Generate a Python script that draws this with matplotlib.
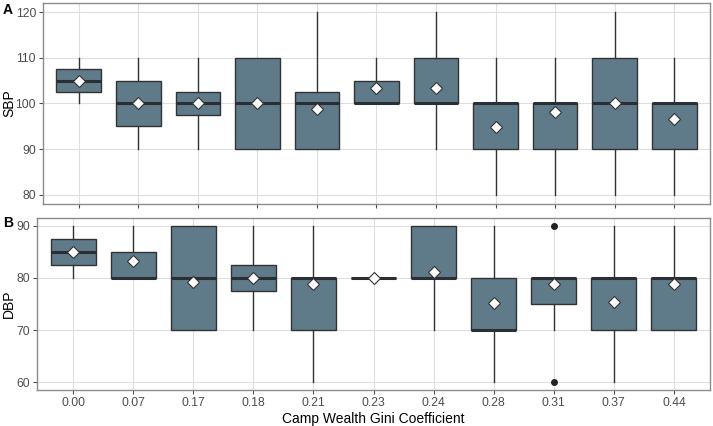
import numpy as np
import matplotlib
matplotlib.use("Agg")
import matplotlib.pyplot as plt

plt.rcParams['font.family'] = ['Liberation Sans', 'DejaVu Sans']

# categories on the x axis
gini = ["0.00", "0.07", "0.17", "0.18", "0.21", "0.23", "0.24", "0.28", "0.31", "0.37", "0.44"]

# SBP box stats
sbp_q1 = [102.5, 95, 97.5, 90, 90, 100, 100, 90, 90, 90, 90]
sbp_med = [105, 100, 100, 100, 100, 100, 100, 100, 100, 100, 100]
sbp_q3 = [107.5, 105, 102.5, 110, 102.5, 105, 110, 100, 100, 110, 100]
sbp_lo = [100, 90, 90, 90, 90, 100, 90, 80, 80, 80, 80]
sbp_hi = [110, 110, 110, 110, 120, 110, 120, 110, 110, 120, 110]
sbp_mean = [105, 100, 100, 100, 98.9, 103.3, 103.3, 94.8, 98.1, 100, 96.7]
sbp_out = [[], [], [], [], [], [], [], [], [], [], []]

# DBP box stats
dbp_q1 = [82.5, 80, 70, 77.5, 70, 80, 80, 70, 75, 70, 70]
dbp_med = [85, 80, 80, 80, 80, 80, 80, 70, 80, 80, 80]
dbp_q3 = [87.5, 85, 90, 82.5, 80, 80, 90, 80, 80, 80, 80]
dbp_lo = [80, 80, 70, 70, 60, 80, 70, 60, 70, 60, 70]
dbp_hi = [90, 90, 90, 90, 90, 80, 90, 90, 80, 90, 90]
dbp_mean = [85, 83.3, 79.3, 80, 78.9, 80, 81.1, 75.2, 78.9, 75.4, 78.9]
dbp_out = [[], [], [], [], [], [], [], [], [60, 90], [], []]

FILL = "#5f7a89"
EDGE = "#333333"


def make_stats(q1, med, q3, lo, hi, mean, out):
    stats = []
    for i in range(len(q1)):
        stats.append(dict(q1=q1[i], med=med[i], q3=q3[i], whislo=lo[i], whishi=hi[i],
                          mean=mean[i], fliers=out[i], label=gini[i]))
    return stats


def draw_panel(ax, stats, ylim, yticks, ylabel):
    pos = np.arange(1, len(stats) + 1)
    ax.set_axisbelow(True)
    ax.grid(True, color="#dedede", linewidth=0.8)
    ax.bxp(stats, positions=pos, widths=0.75, patch_artist=True, showmeans=True,
           showcaps=False,
           boxprops=dict(facecolor=FILL, edgecolor=EDGE, linewidth=1.0),
           medianprops=dict(color="#2b2f33", linewidth=2.2),
           whiskerprops=dict(color=EDGE, linewidth=1.0),
           flierprops=dict(marker="o", markerfacecolor="#222222", markeredgecolor="#222222",
                           markersize=4),
           meanprops=dict(marker="D", markerfacecolor="white", markeredgecolor="#333333",
                          markersize=6.3, markeredgewidth=0.8))
    ax.set_xlim(0.4, len(stats) + 0.6)
    ax.set_ylim(*ylim)
    ax.set_yticks(yticks)
    ax.set_xticks(pos)
    ax.set_ylabel(ylabel, fontsize=10, color="black")
    for s in ax.spines.values():
        s.set_color("#8c8c8c")
        s.set_linewidth(1.0)
    ax.tick_params(colors="#4d4d4d", labelsize=8.7, length=3, width=0.8, pad=2)


W, H = 713, 426
fig = plt.figure(figsize=(W / 100, H / 100), dpi=100)

axA = fig.add_axes([43 / W, 1 - 204 / H, (710 - 43) / W, (204 - 3) / H])
axB = fig.add_axes([37 / W, 1 - 390 / H, (710 - 37) / W, (390 - 218) / H])

draw_panel(axA, make_stats(sbp_q1, sbp_med, sbp_q3, sbp_lo, sbp_hi, sbp_mean, sbp_out),
           (78, 122), [80, 90, 100, 110, 120], "SBP")
draw_panel(axB, make_stats(dbp_q1, dbp_med, dbp_q3, dbp_lo, dbp_hi, dbp_mean, dbp_out),
           (58.5, 91.5), [60, 70, 80, 90], "DBP")

axA.set_xticklabels([])
axB.set_xticklabels(gini)
axB.set_xlabel("Camp Wealth Gini Coefficient", fontsize=10, color="black", labelpad=2)

# y titles sit near the left edge of the figure
for ax, left in [(axA, 43), (axB, 37)]:
    ax.yaxis.set_label_coords((9 - left) / (710 - left), 0.5)
    ax.yaxis.label.set_verticalalignment("center")

# panel letters
fig.text(3 / W, 1 - 3 / H, "A", fontsize=10, fontweight="bold", va="top", ha="left")
fig.text(3 / W, 1 - 216 / H, "B", fontsize=10, fontweight="bold", va="top", ha="left")

fig.savefig("out.png", dpi=100)
